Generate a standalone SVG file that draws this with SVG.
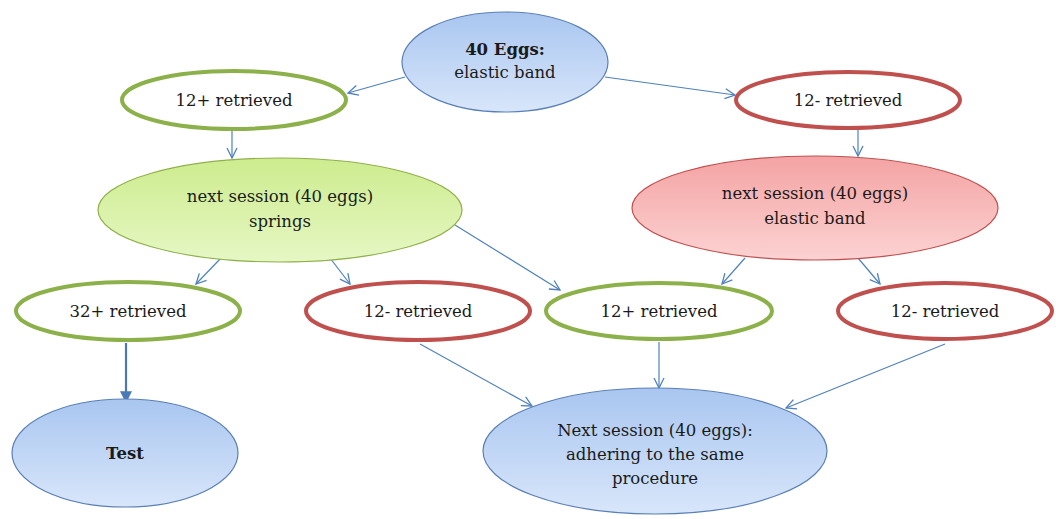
<svg xmlns="http://www.w3.org/2000/svg" width="1056" height="519" viewBox="0 0 1056 519">
<defs>
<linearGradient id="gBlue" x1="0" y1="0" x2="0" y2="1"><stop offset="0" stop-color="#a9c6f0"/><stop offset="1" stop-color="#d8e6fa"/></linearGradient>
<linearGradient id="gGreen" x1="0" y1="0" x2="0" y2="1"><stop offset="0" stop-color="#cdec8e"/><stop offset="1" stop-color="#e6f7c4"/></linearGradient>
<linearGradient id="gRed" x1="0" y1="0" x2="0" y2="1"><stop offset="0" stop-color="#f4a3a3"/><stop offset="1" stop-color="#fcd2d2"/></linearGradient>
<marker id="open" viewBox="0 0 12 12" refX="11" refY="6" markerWidth="12" markerHeight="12" markerUnits="userSpaceOnUse" orient="auto"><path d="M1,1 L11,6 L1,11" fill="none" stroke="#4f81bd" stroke-width="1.3"/></marker>
<marker id="solid" viewBox="0 0 10 10" refX="9" refY="5" markerWidth="12" markerHeight="12" markerUnits="userSpaceOnUse" orient="auto"><path d="M0,0 L10,5 L0,10 Z" fill="#4a7ab5"/></marker>
</defs>
<style>
text{font-family:"DejaVu Serif","Liberation Serif",serif;font-size:16.5px;fill:#1a1a1a;text-anchor:middle}
.b{font-weight:bold}
.blue{fill:url(#gBlue);stroke:#5a7fb5;stroke-width:1.2}
.green{fill:url(#gGreen);stroke:#8fb04a;stroke-width:1.2}
.red{fill:url(#gRed);stroke:#c05050;stroke-width:1.2}
.go{fill:#fff;stroke:#8db14a;stroke-width:4}
.ro{fill:#fff;stroke:#c0504d;stroke-width:4}
.c{fill:none;stroke:#4f81bd;stroke-width:1.2;marker-end:url(#open)}
.t{fill:none;stroke:#4a7ab5;stroke-width:2.2;marker-end:url(#solid)}
</style>
<rect width="1056" height="519" fill="#fff"/>
<g id="connectors">
<line class="c" x1="405" y1="77" x2="348" y2="93"/>
<line class="c" x1="605" y1="77" x2="735" y2="95"/>
<line class="c" x1="232" y1="130" x2="232" y2="158"/>
<line class="c" x1="858" y1="128" x2="858" y2="156"/>
<line class="c" x1="222" y1="257" x2="196" y2="284"/>
<line class="c" x1="330" y1="258" x2="350" y2="284"/>
<line class="c" x1="455" y1="225" x2="560" y2="290"/>
<line class="c" x1="745" y1="258" x2="722" y2="284"/>
<line class="c" x1="858" y1="258" x2="880" y2="284"/>
<line class="t" x1="126" y1="343" x2="126" y2="402"/>
<line class="c" x1="420" y1="344" x2="532" y2="406"/>
<line class="c" x1="659" y1="342" x2="659" y2="388"/>
<line class="c" x1="945" y1="344" x2="786" y2="408"/>
</g>
<g id="n-top"><ellipse class="blue" cx="505" cy="62" rx="103" ry="50"/><text class="b" x="505" y="55">40 Eggs:</text><text x="505" y="78">elastic band</text></g>
<g id="n-12plus-top"><ellipse class="go" cx="234" cy="100" rx="112" ry="29"/><text x="234" y="106">12+ retrieved</text></g>
<g id="n-12minus-top"><ellipse class="ro" cx="848" cy="100" rx="112" ry="28"/><text x="848" y="106">12- retrieved</text></g>
<g id="n-springs"><ellipse class="green" cx="280" cy="210" rx="182" ry="52"/><text x="280" y="202">next session (40 eggs)</text><text x="280" y="227">springs</text></g>
<g id="n-elastic"><ellipse class="red" cx="815" cy="208" rx="183" ry="52"/><text x="815" y="199">next session (40 eggs)</text><text x="815" y="224">elastic band</text></g>
<g id="n-32plus"><ellipse class="go" cx="128" cy="311" rx="112" ry="29"/><text x="128" y="317">32+ retrieved</text></g>
<g id="n-12minus-a"><ellipse class="ro" cx="418" cy="311" rx="112" ry="29"/><text x="418" y="317">12- retrieved</text></g>
<g id="n-12plus-mid"><ellipse class="go" cx="659" cy="311" rx="113" ry="28"/><text x="659" y="317">12+ retrieved</text></g>
<g id="n-12minus-b"><ellipse class="ro" cx="945" cy="311" rx="107" ry="28"/><text x="945" y="317">12- retrieved</text></g>
<g id="n-test"><ellipse class="blue" cx="125" cy="453" rx="113" ry="54"/><text class="b" x="125" y="459">Test</text></g>
<g id="n-next"><ellipse class="blue" cx="655" cy="451" rx="172" ry="63"/><text x="655" y="436">Next session (40 eggs):</text><text x="655" y="460">adhering to the same</text><text x="655" y="484">procedure</text></g>
</svg>
